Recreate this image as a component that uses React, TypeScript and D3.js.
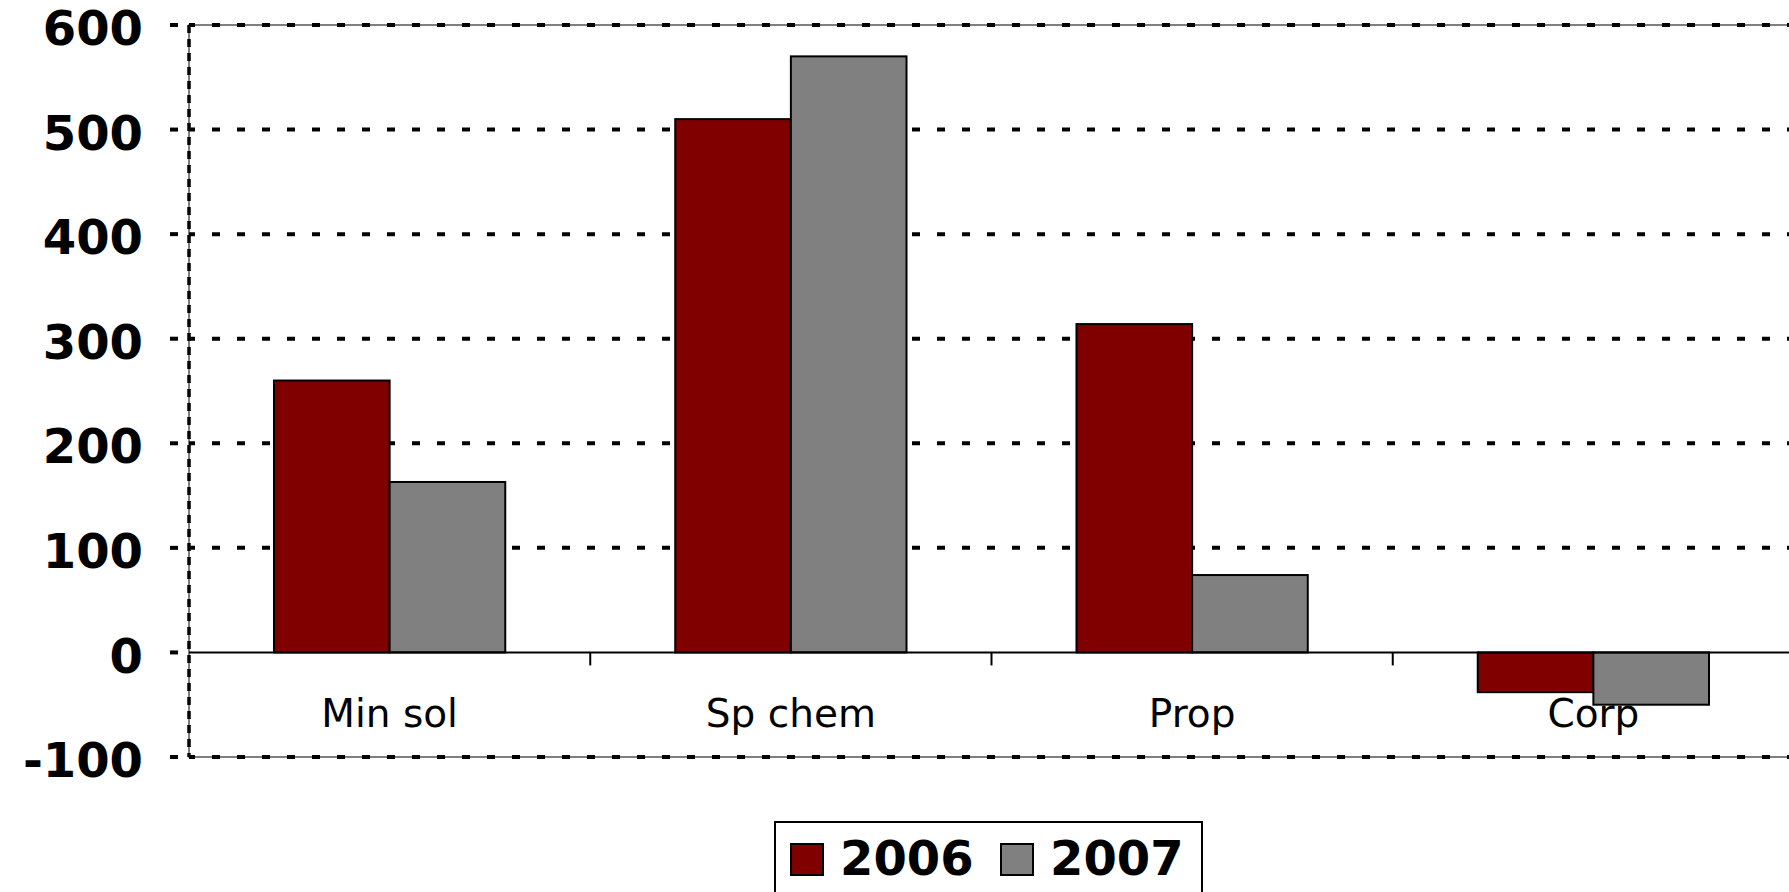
import { scaleBand, scaleLinear } from "d3";

const WIDTH = 1789;
const HEIGHT = 892;
const MARGIN = { top: 25, right: -5, bottom: 135, left: 189 };

const categories = ["Min sol", "Sp chem", "Prop", "Corp"];
const years = ["2006", "2007"];
const values2006 = [260, 510, 314, -38];
const values2007 = [163, 570, 74, -50];
const yTicks = [-100, 0, 100, 200, 300, 400, 500, 600];
const colors = ["#800000", "#808080"];

const FONT = "'DejaVu Sans', Verdana, sans-serif";

export default function App() {
  const series = [values2006, values2007];
  const plotRight = WIDTH - MARGIN.right;
  const plotBottom = HEIGHT - MARGIN.bottom;

  const y = scaleLinear().domain([-100, 600]).range([plotBottom, MARGIN.top]);
  const x0 = scaleBand().domain(categories).range([MARGIN.left, plotRight]);
  const x1 = scaleBand()
    .domain(years)
    .range([0, x0.bandwidth()])
    .paddingOuter(0.735);

  const dash = "8 17";

  return (
    <svg
      width={WIDTH}
      height={HEIGHT}
      viewBox={`0 0 ${WIDTH} ${HEIGHT}`}
      style={{ position: "absolute", left: 0, top: 0, background: "#fff" }}
    >
      {/* plot border */}
      <rect
        x={MARGIN.left}
        y={MARGIN.top}
        width={plotRight - MARGIN.left}
        height={plotBottom - MARGIN.top}
        fill="none"
        stroke="#555"
        strokeWidth={1.5}
      />
      <line
        x1={MARGIN.left}
        x2={MARGIN.left}
        y1={MARGIN.top}
        y2={plotBottom}
        stroke="#000"
        strokeWidth={3.5}
        strokeDasharray="8 6"
      />

      {/* gridlines, y ticks and labels */}
      {yTicks.map((t) => (
        <g key={t}>
          {t !== 0 && (
            <line
              x1={MARGIN.left}
              x2={plotRight}
              y1={y(t)}
              y2={y(t)}
              stroke="#000"
              strokeWidth={4}
              strokeDasharray={dash}
              strokeDashoffset={2}
            />
          )}
          <line
            x1={170}
            x2={178}
            y1={y(t)}
            y2={y(t)}
            stroke="#000"
            strokeWidth={4}
          />
          <text
            x={143}
            y={y(t)}
            dy="0.42em"
            textAnchor="end"
            fontFamily={FONT}
            fontWeight="bold"
            fontSize={48}
            fill="#000"
          >
            {t}
          </text>
        </g>
      ))}

      {/* bars */}
      {categories.map((c, i) => (
        <g key={c} transform={`translate(${x0(c)},0)`}>
          {years.map((yr, j) => {
            const v = series[j][i];
            return (
              <rect
                key={yr}
                x={x1(yr)}
                y={y(Math.max(0, v))}
                width={x1.bandwidth()}
                height={Math.abs(y(v) - y(0))}
                fill={colors[j]}
                stroke="#000"
                strokeWidth={2}
              />
            );
          })}
        </g>
      ))}

      {/* zero axis */}
      <line
        x1={MARGIN.left}
        x2={plotRight}
        y1={y(0)}
        y2={y(0)}
        stroke="#000"
        strokeWidth={2}
      />
      {categories.slice(1).map((c) => (
        <line
          key={c}
          x1={x0(c)}
          x2={x0(c)}
          y1={y(0)}
          y2={y(0) + 13}
          stroke="#000"
          strokeWidth={2}
        />
      ))}
      {categories.map((c) => (
        <text
          key={c}
          x={(x0(c) ?? 0) + x0.bandwidth() / 2}
          y={727}
          textAnchor="middle"
          fontFamily={FONT}
          fontSize={39}
          fill="#000"
        >
          {c}
        </text>
      ))}

      {/* legend */}
      <rect
        x={775}
        y={822}
        width={427}
        height={100}
        fill="#fff"
        stroke="#000"
        strokeWidth={2}
      />
      {years.map((yr, j) => {
        const lx = j === 0 ? 791 : 1001;
        return (
          <g key={yr}>
            <rect
              x={lx}
              y={844}
              width={32}
              height={31}
              fill={colors[j]}
              stroke="#000"
              strokeWidth={2}
            />
            <text
              x={lx + 49}
              y={875}
              fontFamily={FONT}
              fontWeight="bold"
              fontSize={48}
              fill="#000"
            >
              {yr}
            </text>
          </g>
        );
      })}
    </svg>
  );
}
